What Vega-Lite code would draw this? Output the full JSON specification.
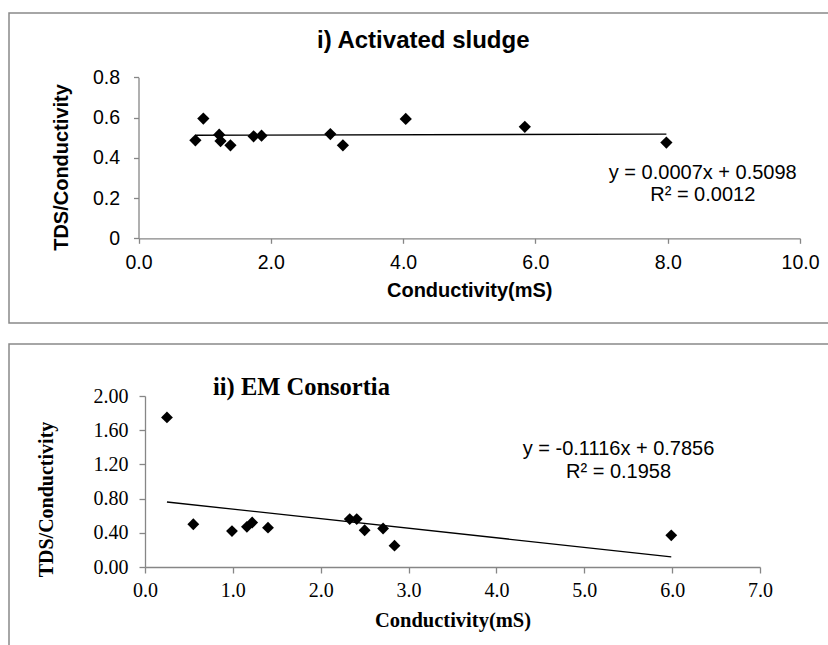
{
  "$schema": "https://vega.github.io/schema/vega-lite/v6.json",
  "padding": {"left": 8, "top": 12, "right": 0, "bottom": 0},
  "background": "white",
  "spacing": 19,
  "config": {
    "view": {"stroke": "#898989", "strokeWidth": 1.5},
    "axis": {"grid": false, "labelFlush": false, "labelOverlap": false, "domainColor": "#868686", "tickColor": "#868686", "domainWidth": 1.3, "tickWidth": 1.3, "labelColor": "black", "titleColor": "black"}
  },
  "datasets": {
    "sludge": [
      {"conductivity": 0.86, "ratio": 0.487},
      {"conductivity": 0.98, "ratio": 0.595},
      {"conductivity": 1.22, "ratio": 0.515},
      {"conductivity": 1.24, "ratio": 0.483},
      {"conductivity": 1.39, "ratio": 0.462},
      {"conductivity": 1.74, "ratio": 0.507},
      {"conductivity": 1.86, "ratio": 0.51},
      {"conductivity": 2.90, "ratio": 0.518},
      {"conductivity": 3.09, "ratio": 0.462},
      {"conductivity": 4.04, "ratio": 0.593},
      {"conductivity": 5.84, "ratio": 0.554},
      {"conductivity": 7.98, "ratio": 0.476}
    ],
    "em": [
      {"conductivity": 0.25, "ratio": 1.75},
      {"conductivity": 0.55, "ratio": 0.50},
      {"conductivity": 0.99, "ratio": 0.42},
      {"conductivity": 1.16, "ratio": 0.47},
      {"conductivity": 1.22, "ratio": 0.52},
      {"conductivity": 1.40, "ratio": 0.46},
      {"conductivity": 2.33, "ratio": 0.56},
      {"conductivity": 2.41, "ratio": 0.56},
      {"conductivity": 2.50, "ratio": 0.43},
      {"conductivity": 2.71, "ratio": 0.45},
      {"conductivity": 2.84, "ratio": 0.25},
      {"conductivity": 5.99, "ratio": 0.37}
    ]
  },
  "vconcat": [
    {
      "width": 840,
      "height": 310,
      "title": {"text": "i) Activated sludge", "anchor": "start", "frame": "group", "dx": 308, "offset": -59, "baseline": "alphabetic", "font": "Liberation Sans", "fontSize": 24, "fontWeight": "bold", "color": "black"},
      "layer": [
        {
          "data": {"name": "sludge"},
          "mark": {"type": "point", "shape": "diamond", "filled": true, "color": "black", "opacity": 1, "size": 150},
          "encoding": {
            "x": {
              "field": "conductivity", "type": "quantitative",
              "scale": {"domain": [0, 10], "range": [129.5, 791], "nice": false, "zero": false},
              "axis": {"values": [0, 2, 4, 6, 8, 10], "format": ".1f", "offset": -84.7, "tickSize": 5, "labelPadding": 19, "labelBaseline": "middle", "labelFont": "Liberation Sans", "labelFontSize": 19.5, "title": "Conductivity(mS)", "titleFont": "Liberation Sans", "titleFontSize": 20, "titleFontWeight": "bold", "titleY": 52, "titleBaseline": "middle"}
            },
            "y": {
              "field": "ratio", "type": "quantitative",
              "scale": {"domain": [0, 0.8], "range": [225.3, 64.3], "nice": false, "zero": false},
              "axis": {"values": [0, 0.2, 0.4, 0.6, 0.8], "format": ".1~f", "offset": -129.5, "tickSize": 5, "labelPadding": 14, "labelFont": "Liberation Sans", "labelFontSize": 19.5, "title": "TDS/Conductivity", "titleFont": "Liberation Sans", "titleFontSize": 20, "titleFontWeight": "bold", "titleX": -77, "titleY": 154, "titleAlign": "center", "titleBaseline": "middle"}
            }
          }
        },
        {
          "data": {"name": "sludge"},
          "transform": [{"regression": "ratio", "on": "conductivity"}],
          "mark": {"type": "line", "color": "black", "strokeWidth": 1.3},
          "encoding": {
            "x": {"field": "conductivity", "type": "quantitative"},
            "y": {"field": "ratio", "type": "quantitative"}
          }
        },
        {
          "data": {"values": [{}]},
          "mark": {"type": "text", "align": "center", "baseline": "middle", "font": "Liberation Sans", "fontSize": 20, "lineHeight": 22, "color": "black"},
          "encoding": {
            "x": {"datum": 8.53, "type": "quantitative"},
            "y": {"datum": 0.326, "type": "quantitative"},
            "text": {"value": ["y = 0.0007x + 0.5098", "R² = 0.0012"]}
          }
        }
      ]
    },
    {
      "width": 840,
      "height": 310,
      "title": {"text": "ii) EM Consortia", "anchor": "start", "frame": "group", "dx": 204, "offset": -75, "baseline": "alphabetic", "font": "Liberation Serif", "fontSize": 24.5, "fontWeight": "bold", "color": "black"},
      "layer": [
        {
          "data": {"name": "em"},
          "mark": {"type": "point", "shape": "diamond", "filled": true, "color": "black", "opacity": 1, "size": 140},
          "encoding": {
            "x": {
              "field": "conductivity", "type": "quantitative",
              "scale": {"domain": [0, 7], "range": [136, 751], "nice": false, "zero": false},
              "axis": {"values": [0, 1, 2, 3, 4, 5, 6, 7], "format": ".1f", "offset": -87, "tickSize": 6, "labelPadding": 17, "labelBaseline": "middle", "labelFont": "Liberation Serif", "labelFontSize": 20, "title": "Conductivity(mS)", "titleFont": "Liberation Serif", "titleFontSize": 20.5, "titleFontWeight": "bold", "titleY": 53, "titleBaseline": "middle"}
            },
            "y": {
              "field": "ratio", "type": "quantitative",
              "scale": {"domain": [0, 2], "range": [223, 52], "nice": false, "zero": false},
              "axis": {"values": [0, 0.4, 0.8, 1.2, 1.6, 2.0], "format": ".2f", "offset": -136, "tickSize": 6, "labelPadding": 11, "labelFont": "Liberation Serif", "labelFontSize": 20, "title": "TDS/Conductivity", "titleFont": "Liberation Serif", "titleFontSize": 20, "titleFontWeight": "bold", "titleX": -99, "titleY": 155, "titleAlign": "center", "titleBaseline": "middle"}
            }
          }
        },
        {
          "data": {"name": "em"},
          "transform": [{"regression": "ratio", "on": "conductivity"}],
          "mark": {"type": "line", "color": "black", "strokeWidth": 1.3},
          "encoding": {
            "x": {"field": "conductivity", "type": "quantitative"},
            "y": {"field": "ratio", "type": "quantitative"}
          }
        },
        {
          "data": {"values": [{}]},
          "mark": {"type": "text", "align": "center", "baseline": "middle", "font": "Liberation Sans", "fontSize": 20, "lineHeight": 23, "color": "black"},
          "encoding": {
            "x": {"datum": 5.39, "type": "quantitative"},
            "y": {"datum": 1.38, "type": "quantitative"},
            "text": {"value": ["y = -0.1116x + 0.7856", "R² = 0.1958"]}
          }
        }
      ]
    }
  ]
}
